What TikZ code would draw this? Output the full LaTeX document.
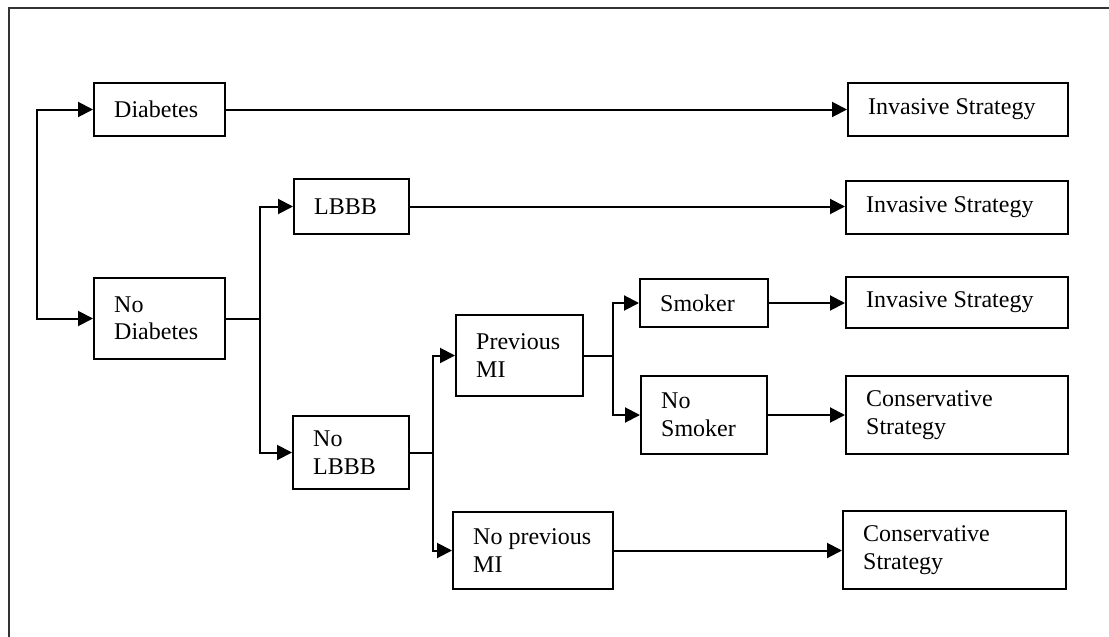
\documentclass[tikz,border=0pt]{standalone}
\usepackage{fontspec}
\setmainfont{Liberation Serif}
\usetikzlibrary{arrows.meta,calc}
\tikzset{
  box/.style={draw=black, line width=2pt, rectangle, inner sep=0pt},
  txt/.style={anchor=west, align=left, inner sep=0pt, font=\fontsize{24}{27.5}\selectfont},
  conn/.style={line width=2pt, -{Triangle[length=15pt,width=15pt]}},
  link/.style={line width=2pt},
  frame/.style={draw=black!80, line width=2pt}
}
\begin{document}
\begin{tikzpicture}[x=1pt,y=-1pt]
\clip (0,0) rectangle (1109,637);
\fill[white] (0,0) rectangle (1109,637);
\draw[frame] (9,660) -- (9,8) -- (1130,8);

% boxes
\node[box, minimum width=131pt, minimum height=53pt] (diab) at (159.5,109.5) {};
\node[box, minimum width=220pt, minimum height=53pt] (inv1) at (958,109.5) {};
\node[box, minimum width=115pt, minimum height=55pt] (lbbb) at (351.5,206.5) {};
\node[box, minimum width=222pt, minimum height=53pt] (inv2) at (957,207.5) {};
\node[box, minimum width=131pt, minimum height=81pt] (nodiab) at (159.5,318.5) {};
\node[box, minimum width=128pt, minimum height=48pt] (smoker) at (704,303) {};
\node[box, minimum width=222pt, minimum height=51pt] (inv3) at (957,302.5) {};
\node[box, minimum width=127pt, minimum height=81pt] (prevmi) at (519.5,355.5) {};
\node[box, minimum width=126pt, minimum height=78pt] (nosmoker) at (704,415) {};
\node[box, minimum width=222pt, minimum height=78pt] (cons1) at (957,415) {};
\node[box, minimum width=116pt, minimum height=73pt] (nolbbb) at (351,452.5) {};
\node[box, minimum width=160pt, minimum height=77pt] (noprevmi) at (533,550.5) {};
\node[box, minimum width=223pt, minimum height=78pt] (cons2) at (954.5,550) {};

% texts
\node[txt] (diab-t) at ([xshift=21pt]diab.west) {Diabetes};
\node[txt] (inv1-t) at ([xshift=21pt]inv1.west) {Invasive Strategy};
\node[txt] (lbbb-t) at ([xshift=21pt]lbbb.west) {LBBB};
\node[txt] (inv2-t) at ([xshift=21pt]inv2.west) {Invasive Strategy};
\node[txt] (nodiab-t) at ([xshift=21pt]nodiab.west) {No\\Diabetes};
\node[txt] (smoker-t) at ([xshift=21pt]smoker.west) {Smoker};
\node[txt] (inv3-t) at ([xshift=21pt]inv3.west) {Invasive Strategy};
\node[txt] (prevmi-t) at ([xshift=21pt]prevmi.west) {Previous\\MI};
\node[txt] (nosmoker-t) at ([xshift=21pt]nosmoker.west) {No\\Smoker};
\node[txt] (cons1-t) at ([xshift=21pt]cons1.west) {Conservative\\Strategy};
\node[txt] (nolbbb-t) at ([xshift=21pt]nolbbb.west) {No\\LBBB};
\node[txt] (noprevmi-t) at ([xshift=21pt]noprevmi.west) {No previous\\MI};
\node[txt] (cons2-t) at ([xshift=21pt]cons2.west) {Conservative\\Strategy};

% connectors
\coordinate (root) at (37,214);
\draw[conn] (root) |- (diab.west);
\draw[conn] (root) |- (nodiab.west);
\draw[conn] (diab.east) -- (diab.east -| inv1.west);
\coordinate (s1) at ($(nodiab.east)+(34,0)$);
\draw[link] (nodiab.east) -- (s1);
\draw[conn] (s1) |- (lbbb.west);
\draw[conn] (s1) |- (nolbbb.west);
\draw[conn] (lbbb.east) -- (lbbb.east -| inv2.west);
\coordinate (s2) at ($(nolbbb.east)+(23,0)$);
\draw[link] (nolbbb.east) -- (s2);
\draw[conn] (s2) |- (prevmi.west);
\draw[conn] (s2) |- (noprevmi.west);
\coordinate (s3) at ($(prevmi.east)+(29,0)$);
\draw[link] (prevmi.east) -- (s3);
\draw[conn] (s3) |- (smoker.west);
\draw[conn] (s3) |- (nosmoker.west);
\draw[conn] (smoker.east) -- (smoker.east -| inv3.west);
\draw[conn] (nosmoker.east) -- (nosmoker.east -| cons1.west);
\draw[conn] (noprevmi.east) -- (noprevmi.east -| cons2.west);
\end{tikzpicture}
\end{document}
